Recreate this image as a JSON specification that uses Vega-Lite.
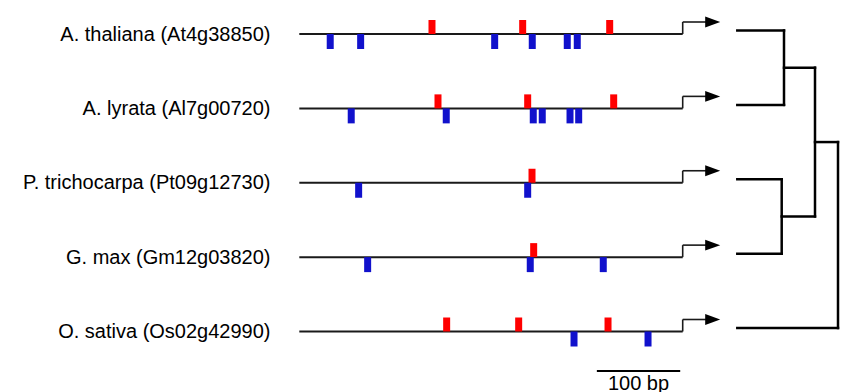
{
  "$schema": "https://vega.github.io/schema/vega-lite/v6.json",
  "width": 561,
  "height": 392,
  "autosize": "none",
  "padding": {"left": 280, "top": 0, "right": 0, "bottom": 0},
  "background": "white",
  "config": {"view": {"stroke": null}, "font": "Liberation Sans"},
  "datasets": {
    "genes": [
      {"gene": "A. thaliana (At4g38850)", "row": 0, "start": -460, "end": 0},
      {"gene": "A. lyrata (Al7g00720)", "row": 1, "start": -460, "end": 0},
      {"gene": "P. trichocarpa (Pt09g12730)", "row": 2, "start": -460, "end": 0},
      {"gene": "G. max (Gm12g03820)", "row": 3, "start": -460, "end": 0},
      {"gene": "O. sativa (Os02g42990)", "row": 4, "start": -460, "end": 0}
    ],
    "motifs": [
      {"row": 0, "pos": -300.8, "strand": "upper"},
      {"row": 0, "pos": -192, "strand": "upper"},
      {"row": 0, "pos": -87.6, "strand": "upper"},
      {"row": 0, "pos": -422.9, "strand": "lower"},
      {"row": 0, "pos": -386.4, "strand": "lower"},
      {"row": 0, "pos": -225.6, "strand": "lower"},
      {"row": 0, "pos": -180.5, "strand": "lower"},
      {"row": 0, "pos": -138.5, "strand": "lower"},
      {"row": 0, "pos": -126.5, "strand": "lower"},
      {"row": 1, "pos": -293.6, "strand": "upper"},
      {"row": 1, "pos": -186, "strand": "upper"},
      {"row": 1, "pos": -82.8, "strand": "upper"},
      {"row": 1, "pos": -397.7, "strand": "lower"},
      {"row": 1, "pos": -283.7, "strand": "lower"},
      {"row": 1, "pos": -179.3, "strand": "lower"},
      {"row": 1, "pos": -168.5, "strand": "lower"},
      {"row": 1, "pos": -135.2, "strand": "lower"},
      {"row": 1, "pos": -124.8, "strand": "lower"},
      {"row": 2, "pos": -180.8, "strand": "upper"},
      {"row": 2, "pos": -388.8, "strand": "lower"},
      {"row": 2, "pos": -186, "strand": "lower"},
      {"row": 3, "pos": -178.8, "strand": "upper"},
      {"row": 3, "pos": -378, "strand": "lower"},
      {"row": 3, "pos": -182.9, "strand": "lower"},
      {"row": 3, "pos": -95.3, "strand": "lower"},
      {"row": 4, "pos": -283.2, "strand": "upper"},
      {"row": 4, "pos": -196.8, "strand": "upper"},
      {"row": 4, "pos": -89.6, "strand": "upper"},
      {"row": 4, "pos": -130.4, "strand": "lower"},
      {"row": 4, "pos": -41.6, "strand": "lower"}
    ],
    "scalebar": [{"label": "100 bp", "from": -103, "to": -3, "mid": -53}],
    "tree": [
      {"h1": 0, "h2": 46.7, "v1": 0, "v2": 0},
      {"h1": 0, "h2": 46.7, "v1": 1, "v2": 1},
      {"h1": 0, "h2": 44.4, "v1": 2, "v2": 2},
      {"h1": 0, "h2": 44.4, "v1": 3, "v2": 3},
      {"h1": 0, "h2": 100.7, "v1": 4, "v2": 4},
      {"h1": 46.7, "h2": 46.7, "v1": 0, "v2": 1},
      {"h1": 44.4, "h2": 44.4, "v1": 2, "v2": 3},
      {"h1": 46.7, "h2": 77.7, "v1": 0.5, "v2": 0.5},
      {"h1": 44.4, "h2": 77.7, "v1": 2.5, "v2": 2.5},
      {"h1": 77.7, "h2": 77.7, "v1": 0.5, "v2": 2.5},
      {"h1": 77.7, "h2": 100.7, "v1": 1.5, "v2": 1.5},
      {"h1": 100.7, "h2": 100.7, "v1": 1.5, "v2": 4}
    ]
  },
  "resolve": {"scale": {"x": "independent"}},
  "layer": [
    {
      "layer": [
        {
          "data": {"name": "genes"},
          "mark": {"type": "rule", "color": "#1a1a1a", "strokeWidth": 2},
          "encoding": {
            "x": {"field": "start", "type": "quantitative", "axis": null,
                  "scale": {"domain": [-460, 0], "range": [19.3, 402.7], "nice": false, "zero": false}},
            "x2": {"field": "end"},
            "y": {"field": "row", "type": "quantitative",
                  "scale": {"domain": [0, 4], "range": [34, 331.5], "nice": false, "zero": false},
                  "axis": {"title": null, "values": [0, 1, 2, 3, 4], "domain": false, "ticks": false, "tickSize": 0, "grid": false,
                           "labelPadding": 10, "labelFontSize": 20, "labelFont": "Liberation Sans", "labelColor": "#000000",
                           "labelOverlap": false, "labelBound": false, "labelFlush": false, "labelLimit": 400,
                           "labelExpr": "['A. thaliana (At4g38850)', 'A. lyrata (Al7g00720)', 'P. trichocarpa (Pt09g12730)', 'G. max (Gm12g03820)', 'O. sativa (Os02g42990)'][datum.value]"}}
          }
        },
        {
          "data": {"name": "genes"},
          "mark": {"type": "rule", "color": "#1a1a1a", "strokeWidth": 1.6, "y2Offset": -12},
          "encoding": {
            "x": {"datum": 0, "type": "quantitative"},
            "y": {"field": "row", "type": "quantitative"},
            "y2": {"field": "row"}
          }
        },
        {
          "data": {"name": "genes"},
          "mark": {"type": "rule", "color": "#1a1a1a", "strokeWidth": 1.6, "yOffset": -12},
          "encoding": {
            "x": {"datum": 0, "type": "quantitative"},
            "x2": {"datum": 28},
            "y": {"field": "row", "type": "quantitative"}
          }
        },
        {
          "data": {"name": "genes"},
          "mark": {"type": "point", "shape": "M-1,-0.73L1,0L-1,0.73Z", "size": 225, "filled": true, "color": "#000000", "opacity": 1, "strokeWidth": 0, "yOffset": -12},
          "encoding": {
            "x": {"datum": 36, "type": "quantitative"},
            "y": {"field": "row", "type": "quantitative"}
          }
        },
        {
          "data": {"name": "motifs"},
          "transform": [{"filter": "datum.strand === 'upper'"}],
          "mark": {"type": "rule", "color": "#ff0000", "strokeWidth": 7, "strokeCap": "butt", "y2Offset": -14},
          "encoding": {
            "x": {"field": "pos", "type": "quantitative"},
            "y": {"field": "row", "type": "quantitative"},
            "y2": {"field": "row"}
          }
        },
        {
          "data": {"name": "motifs"},
          "transform": [{"filter": "datum.strand === 'lower'"}],
          "mark": {"type": "rule", "color": "#1111cc", "strokeWidth": 7, "strokeCap": "butt", "y2Offset": 15},
          "encoding": {
            "x": {"field": "pos", "type": "quantitative"},
            "y": {"field": "row", "type": "quantitative"},
            "y2": {"field": "row"}
          }
        },
        {
          "data": {"name": "scalebar"},
          "mark": {"type": "rule", "color": "#000000", "strokeWidth": 2},
          "encoding": {
            "x": {"field": "from", "type": "quantitative"},
            "x2": {"field": "to"},
            "y": {"datum": 4.53, "type": "quantitative"}
          }
        },
        {
          "data": {"name": "scalebar"},
          "mark": {"type": "text", "fontSize": 20, "font": "Liberation Sans", "align": "center", "baseline": "alphabetic", "color": "#000000"},
          "encoding": {
            "x": {"field": "mid", "type": "quantitative"},
            "y": {"datum": 4.787, "type": "quantitative"},
            "text": {"field": "label"}
          }
        }
      ]
    },
    {
      "data": {"name": "tree"},
      "mark": {"type": "rule", "color": "#000000", "strokeWidth": 2.5, "strokeCap": "square", "yOffset": -3.5, "y2Offset": -3.5},
      "encoding": {
        "x": {"field": "h1", "type": "quantitative", "axis": null,
              "scale": {"domain": [0, 100.7], "range": [457.3, 558], "nice": false, "zero": false}},
        "x2": {"field": "h2"},
        "y": {"field": "v1", "type": "quantitative"},
        "y2": {"field": "v2"}
      }
    }
  ]
}
